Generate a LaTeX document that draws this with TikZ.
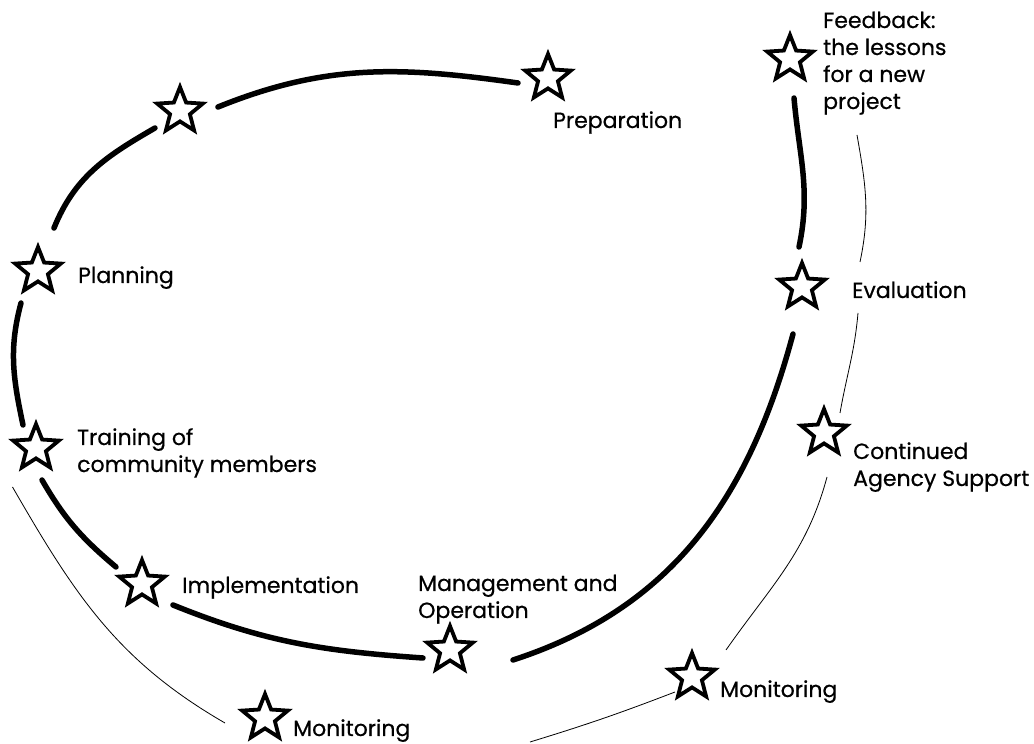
\documentclass[tikz,border=0pt]{standalone}
\usepackage{fontspec}
\setmainfont{Poppins}[FakeBold=0.5]
\usetikzlibrary{shapes.geometric}

\tikzset{
    mark star/.style={star, star points=5, star point ratio=2.3, draw=black, fill=white,
        line width=3.8pt, minimum size=48pt, inner sep=0pt},
    stage text/.style={anchor=base west, inner sep=0pt, align=left,
        font=\fontsize{22}{27}\selectfont},
    loop line/.style={black, line width=5.5pt, line cap=round},
    outer line/.style={black, line width=0.8pt},
}

\begin{document}
\begin{tikzpicture}[x=1pt, y=1pt]
    \useasboundingbox (0,0) rectangle (1034,744);

    % stars
    \node[mark star] (sPrep) at (548,666) {};
    \node[mark star] (sTop) at (180,633) {};
    \node[mark star] (sFeed) at (790,685) {};
    \node[mark star] (sPlan) at (38,473) {};
    \node[mark star] (sEval) at (802,457) {};
    \node[mark star] (sTrain) at (36,296) {};
    \node[mark star] (sCont) at (824,311) {};
    \node[mark star] (sImpl) at (142,160) {};
    \node[mark star] (sMgmt) at (450,94) {};
    \node[mark star] (sMonR) at (692,67) {};
    \node[mark star] (sMonL) at (265,26) {};
    \coordinate (bottomEnd) at (530,2);

    % labels (base = last line)
    \node[stage text] (lPrep) at (553,616) {Preparation};
    \node[stage text] (lFeed) at (823,635) {Feedback:\\the lessons\\for a new\\project};
    \node[stage text] (lPlan) at (78,461) {Planning};
    \node[stage text] (lEval) at (852,446) {Evaluation};
    \node[stage text] (lTrain) at (77,272) {Training of\\community members};
    \node[stage text] (lCont) at (853,258) {Continued\\Agency Support};
    \node[stage text] (lImpl) at (182,151) {Implementation};
    \node[stage text] (lMgmt) at (418,126) {Management and\\Operation};
    \node[stage text] (lMonR) at (720,47) {Monitoring};
    \node[stage text] (lMonL) at (293,8) {Monitoring};

    % main cycle
    \draw[loop line] ([shift={(-30,-5)}]sPrep.center) to[out=172, in=22] ([shift={(38,4)}]sTop.center);
    \draw[loop line] ([shift={(-25,-17)}]sTop.center) to[out=210, in=68] ([shift={(16,43)}]sPlan.center);
    \draw[loop line] ([shift={(-17,-32)}]sPlan.center) to[out=255, in=102] ([shift={(-13,23)}]sTrain.center);
    \draw[loop line] ([shift={(6,-32)}]sTrain.center) to[out=300, in=140] ([shift={(-26,17)}]sImpl.center);
    \draw[loop line] ([shift={(31,-21)}]sImpl.center) to[out=338, in=176] ([shift={(-27,-8)}]sMgmt.center);
    \draw[loop line] ([shift={(63,-10)}]sMgmt.center) to[out=18, in=255] ([shift={(-9,-47)}]sEval.center);
    \draw[loop line] ([shift={(-3,40)}]sEval.center) to[out=78, in=275] ([shift={(4,-39)}]sFeed.center);

    % outer track
    \draw[outer line] ([shift={(-23.5,-39)}]sTrain.center) to[out=300, in=150] ([shift={(-40,-5)}]sMonL.center);
    \draw[outer line] (bottomEnd) to[out=17, in=201] ([shift={(-17,-15)}]sMonR.center);
    \draw[outer line] ([shift={(34,27)}]sMonR.center) to[out=55, in=255] ([shift={(3,-44)}]sCont.center);
    \draw[outer line] ([shift={(16,20)}]sCont.center) to[out=80, in=265] ([shift={(56,-26)}]sEval.center);
    \draw[outer line] ([shift={(58,25)}]sEval.center) to[out=78, in=280] ([shift={(67,-76)}]sFeed.center);
\end{tikzpicture}
\end{document}
